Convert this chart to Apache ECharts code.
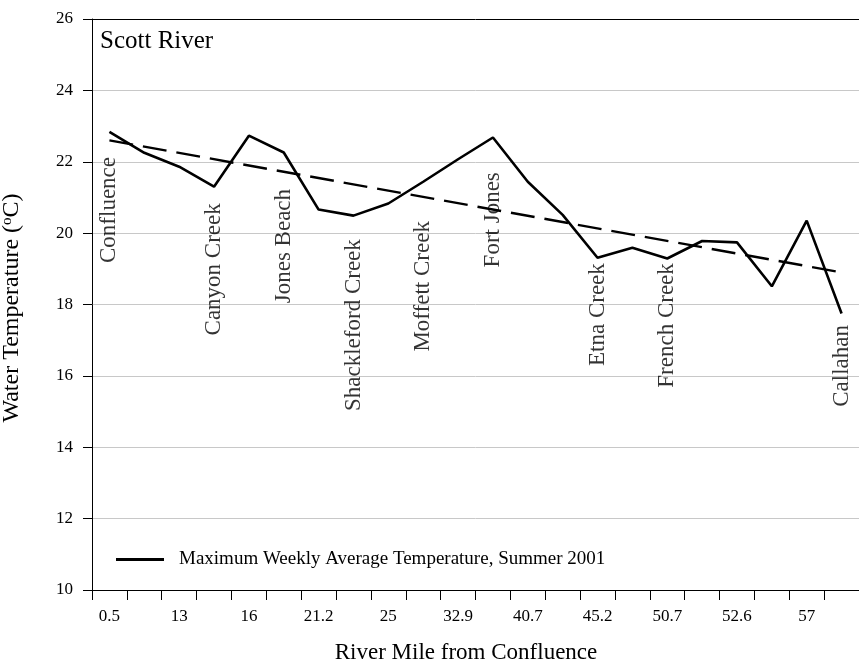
<!DOCTYPE html>
<html>
<head>
<meta charset="utf-8">
<script src="https://cdn.jsdelivr.net/npm/echarts@6/dist/echarts.min.js"></script>
<style>
  html, body { margin: 0; padding: 0; background: #fff; }
  #chart { width: 859px; height: 665px; }
</style>
</head>
<body>
<div id="chart"></div>
<script>
// River mile at each monitoring station (only every other station is labelled on the axis)
const riverMiles = ['0.5', '', '13', '', '16', '', '21.2', '', '25', '', '32.9', '', '40.7', '', '45.2', '', '50.7', '', '52.6', '', '57', ''];

// Maximum weekly average water temperature (deg C), summer 2001
const mwat = [22.84, 22.25, 21.86, 21.30, 22.73, 22.26, 20.66, 20.49, 20.83, 21.44, 22.07,
              22.68, 21.44, 20.51, 19.31, 19.59, 19.29, 19.78, 19.74, 18.51, 20.35, 17.75];

// Linear trend: start and end values at the first and last station
const trendStation = [0, 21];
const trendValue = [22.6, 18.9];

// Landmarks along the river, the station each sits at, and the temperature level where the name starts
const siteNames = ['Confluence', 'Canyon Creek', 'Jones Beach', 'Shackleford Creek', 'Moffett Creek',
                   'Fort Jones', 'Etna Creek', 'French Creek', 'Callahan'];
const siteStation = [0, 3, 5, 7, 9, 11, 14, 16, 21];
const siteLevel = [22.19, 20.95, 21.49, 20.11, 20.73, 21.96, 19.13, 18.99, 17.48];

// Y axis range
const yMin = 10, yMax = 26, yStep = 2;

// Horizontal nudges (px) for the landmark names
const siteNudge = [-2, -4, -9, -10, -14, -9, 1, 6, -2];

const FONT = 'Liberation Serif';
const chart = echarts.init(document.getElementById('chart'), null, { renderer: 'canvas' });

const siteData = siteNames.map((name, i) => ({
  name: name,
  value: [siteStation[i], siteLevel[i]],
  label: { offset: [siteNudge[i], 0] }
}));

chart.setOption({
  animation: false,
  backgroundColor: '#fff',
  grid: { left: 92, top: 19, bottom: 75, width: 773 },
  xAxis: [{
    type: 'category',
    data: riverMiles,
    boundaryGap: true,
    axisLine: { lineStyle: { color: '#000', width: 1 } },
    axisTick: { show: true, interval: 0, inside: false, length: 10, alignWithLabel: false, lineStyle: { color: '#000' } },
    axisLabel: { interval: 1, margin: 18, color: '#000', fontFamily: FONT, fontSize: 17 },
    splitLine: { show: false }
  }, {
    type: 'category',
    position: 'top',
    data: riverMiles,
    axisLine: { lineStyle: { color: '#000', width: 1 } },
    axisTick: { show: false },
    axisLabel: { show: false },
    splitLine: { show: false }
  }],
  yAxis: {
    type: 'value',
    min: yMin, max: yMax, interval: yStep,
    axisLine: { show: true, lineStyle: { color: '#000', width: 1 } },
    axisTick: { show: true, length: 9, lineStyle: { color: '#000' } },
    axisLabel: { margin: 19, color: '#000', fontFamily: FONT, fontSize: 17 },
    splitLine: { show: true, showMinLine: false, showMaxLine: false, lineStyle: { color: '#c8c8c8', width: 1 } }
  },
  legend: {
    data: ['Maximum Weekly Average Temperature, Summer 2001'],
    left: 116, top: 550,
    padding: 0,
    icon: 'rect',
    itemWidth: 48, itemHeight: 3,
    itemGap: 0,
    textStyle: { color: '#000', fontFamily: FONT, fontSize: 19, padding: [0, 0, 0, 10] }
  },
  graphic: [
    {
      type: 'text', left: 100, top: 29,
      style: { text: 'Scott River', fill: '#000', font: '25px "Liberation Serif"' }
    },
    {
      type: 'text', x: 466, y: 653,
      style: { text: 'River Mile from Confluence', fill: '#000', font: '23px "Liberation Serif"',
               textAlign: 'center', textVerticalAlign: 'middle' }
    },
    {
      type: 'text', x: 12, y: 308, rotation: Math.PI / 2,
      style: {
        text: 'Water Temperature ({sup|o}C)', fill: '#000', font: '24px "Liberation Serif"',
        textAlign: 'center', textVerticalAlign: 'middle',
        rich: { sup: { fontSize: 15, fontFamily: FONT, verticalAlign: 'top', padding: [0, 0, 8, 0] } }
      }
    }
  ],
  series: [
    {
      name: 'Maximum Weekly Average Temperature, Summer 2001',
      type: 'line',
      data: mwat,
      symbol: 'none',
      lineStyle: { color: '#000', width: 2.6 },
      itemStyle: { color: '#000' },
      z: 4
    },
    {
      name: 'Trend',
      type: 'line',
      data: trendStation.map((s, i) => [s, trendValue[i]]),
      symbol: 'none',
      lineStyle: { color: '#000', width: 2.4, type: [24, 10] },
      z: 3
    },
    {
      name: 'Sites',
      type: 'scatter',
      data: siteData,
      symbolSize: 0,
      silent: true,
      label: {
        show: true,
        position: 'inside',
        formatter: '{b}',
        rotate: 90,
        align: 'right',
        verticalAlign: 'middle',
        color: '#000',
        fontFamily: FONT,
        fontSize: 23
      },
      z: 2
    }
  ]
});
</script>
</body>
</html>
